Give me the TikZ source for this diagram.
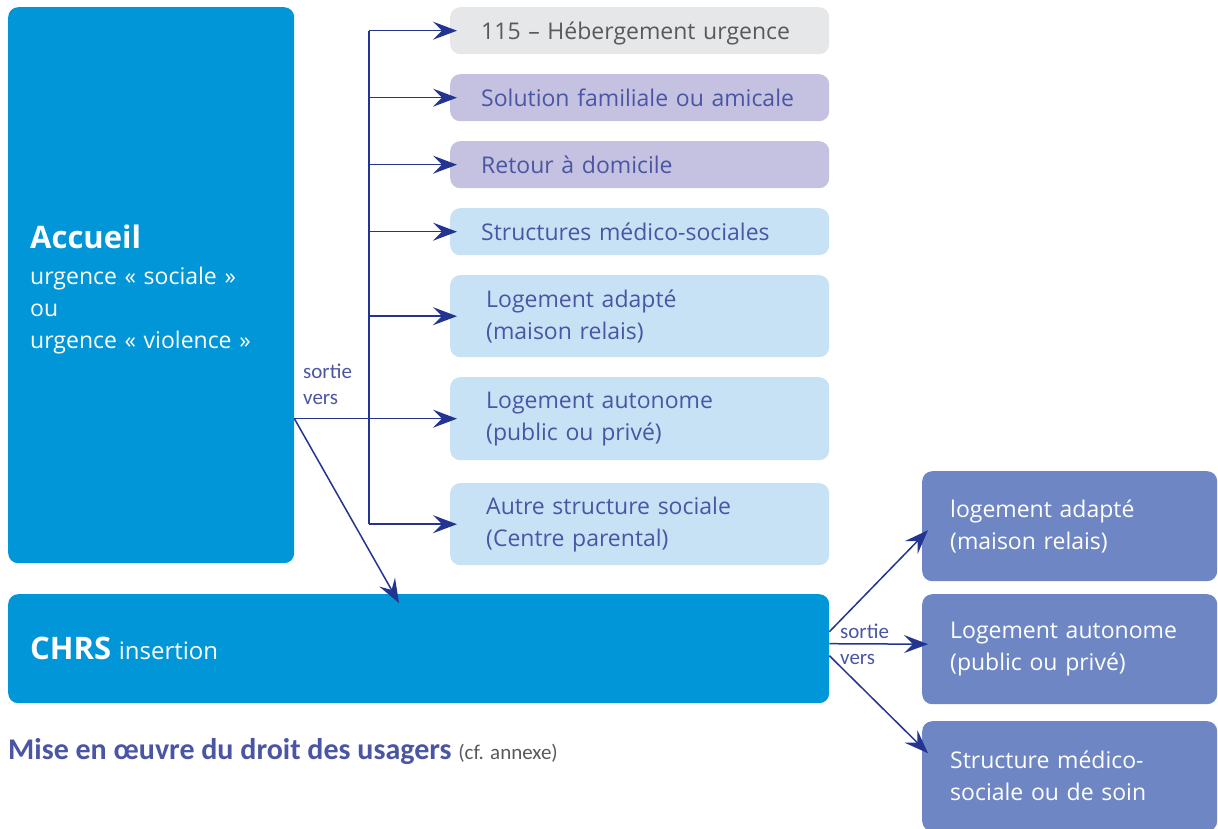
\documentclass[tikz,border=0pt]{standalone}
\usepackage{fontspec}
\setmainfont{Open Sans}
\newfontfamily\calib{Carlito}
\usetikzlibrary{arrows.meta}
\definecolor{accblue}{RGB}{0,150,215}
\definecolor{skyfill}{RGB}{199,226,245}
\definecolor{lavfill}{RGB}{196,194,224}
\definecolor{grayfill}{RGB}{230,231,232}
\definecolor{darkfill}{RGB}{110,135,196}
\definecolor{graytext}{RGB}{88,89,91}
\definecolor{navytext}{RGB}{74,85,164}
\definecolor{arrowblue}{RGB}{36,52,145}
\tikzset{
  base/.style={rectangle, rounded corners=10pt, anchor=north west, inner ysep=0pt,
    inner xsep=31pt, text width=317pt, align=left, font=\fontsize{23}{32}\selectfont},
  graybox/.style={base, fill=grayfill, text=graytext},
  lavbox/.style={base, fill=lavfill, text=navytext},
  skybox/.style={base, fill=skyfill, text=navytext},
  darkbox/.style={base, fill=darkfill, text=white, inner xsep=28pt, text width=239pt, minimum height=110pt},
  bigbox/.style={base, fill=accblue, text=white, inner xsep=22pt},
  sortie/.style={anchor=west, inner sep=0pt, align=left, text=navytext, font=\calib\fontsize{21}{26}\selectfont},
  arr/.style={-{Stealth[length=24pt,width=18pt,inset=9pt]}, draw=arrowblue, line width=1.5pt},
  trunk/.style={draw=arrowblue, line width=1.5pt}
}
\begin{document}
\begin{tikzpicture}[x=1pt,y=-1pt]
\useasboundingbox (0,0) rectangle (1218,829);
\node[bigbox, text width=242pt, minimum height=556pt] (acc) at (8,7)
  {\rule{0pt}{32pt}{\fontsize{31}{36}\selectfont\bfseries Accueil}\\[4pt] urgence « sociale »\\ ou\\ urgence « violence »};
\node[graybox, minimum height=47pt, text depth=0pt] (b1) at (450,7) {115 – Hébergement urgence};
\node[lavbox, minimum height=47pt, text depth=0pt] (b2) at (450,74) {Solution familiale ou amicale};
\node[lavbox, minimum height=47pt, text depth=0pt] (b3) at (450,141) {Retour à domicile};
\node[skybox, minimum height=47pt, text depth=0pt] (b4) at (450,208) {Structures médico-sociales};
\node[skybox, minimum height=82pt, inner xsep=36pt, text width=307pt] (b5) at (450,275) {Logement adapté\\(maison relais)};
\node[skybox, minimum height=83pt, inner xsep=36pt, text width=307pt] (b6) at (450,377) {Logement autonome\\(public ou privé)};
\node[skybox, minimum height=82pt, inner xsep=36pt, text width=307pt] (b7) at (450,483) {Autre structure sociale\\(Centre parental)};
\node[bigbox, text width=777pt, minimum height=109pt] (chrs) at (8,594)
  {{\fontsize{31}{36}\selectfont\bfseries CHRS} {\fontsize{24}{32}\selectfont insertion}};
\node[darkbox] (d1) at (922,471) {logement adapté\\(maison relais)};
\node[darkbox] (d2) at (922,594) {Logement autonome\\(public ou privé)};
\node[darkbox] (d3) at (922,721) {Structure médico-\\sociale ou de soin};
\node[sortie] (s1) at (303,384) {sortie\\vers};
\node[sortie] (s2) at (840,644) {sortie\\vers};
\node[anchor=west, inner sep=0pt, text=navytext] (note) at (8,752)
  {\calib\fontsize{30}{34}\selectfont\bfseries Mise en œuvre du droit des usagers
   {\mdseries\fontsize{21}{24}\selectfont\color{graytext}(cf. annexe)}};
\coordinate (t) at (369,0);
\draw[trunk] (t |- b1.west) -- (t |- b7.west);
\foreach \b in {b1,b2,b3,b4,b5,b7}
  \draw[arr] (t |- \b.west) -- ([xshift=7pt]\b.west);
\draw[arr] (acc.east |- b6.west) -- ([xshift=7pt]b6.west);
\draw[arr] (acc.east |- b6.west) -- ([xshift=391pt,yshift=-9pt]chrs.north west);
\draw[arr] ([yshift=17pt]chrs.east) -- ([xshift=6pt,yshift=-4pt]d1.west);
\draw[arr] ([yshift=5pt]chrs.east) -- ([xshift=6pt,yshift=5pt]d2.west);
\draw[arr] ([yshift=-7pt]chrs.east) -- ([xshift=6pt,yshift=23pt]d3.west);
\end{tikzpicture}
\end{document}
